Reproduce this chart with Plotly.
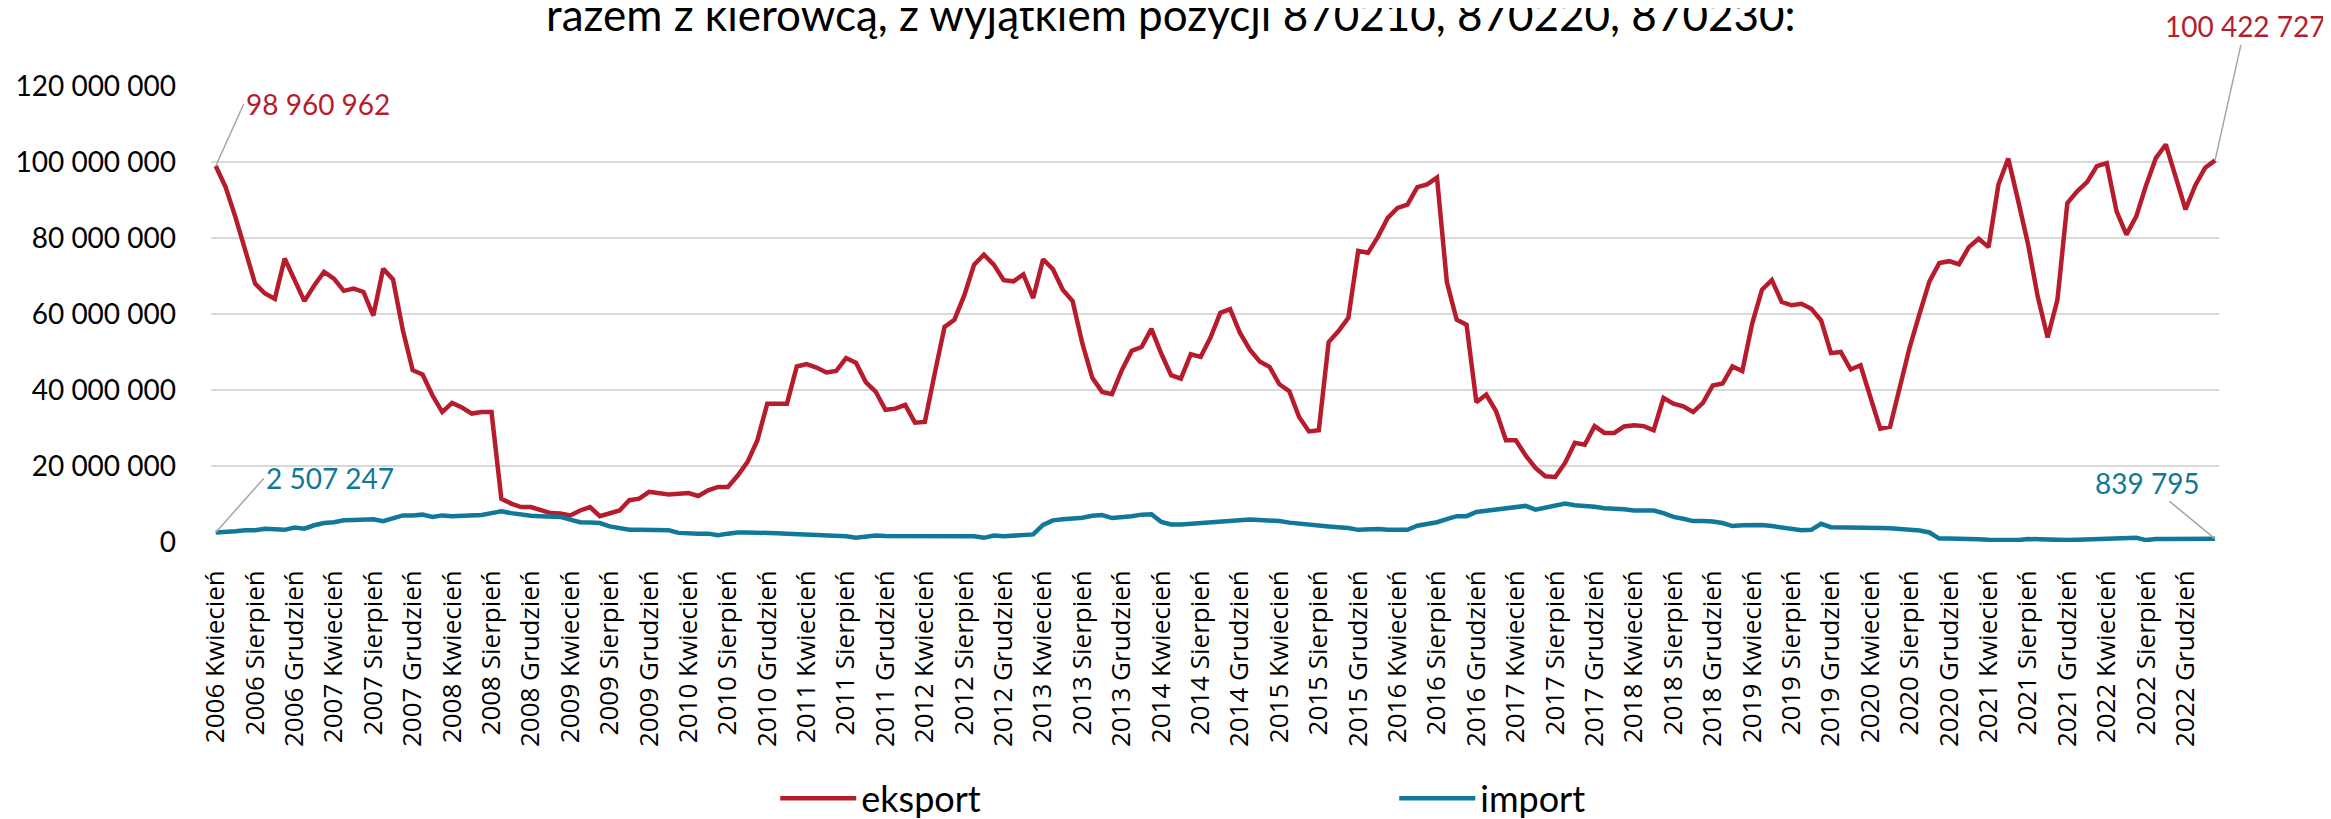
import plotly.graph_objects as go

# ---------------- data (values in millions) ----------------
miesiace_pl = ["Styczeń", "Luty", "Marzec", "Kwiecień", "Maj", "Czerwiec", "Lipiec",
               "Sierpień", "Wrzesień", "Październik", "Listopad", "Grudzień"]
start_year, start_month, n_months = 2006, 4, 204

eksport_mln = [
    98.960962, 93.4, 85.5, 76.8, 68.0, 65.4, 64.0, 74.6, 68.9, 63.4,
    67.5, 71.1, 69.3, 66.1, 66.7, 65.8, 59.6, 71.9, 69.1, 55.7,
    45.2, 44.1, 38.6, 34.2, 36.6, 35.4, 33.8, 34.2, 34.2, 11.4,
    10.1, 9.2, 9.2, 8.3, 7.6, 7.5, 7.0, 8.3, 9.2, 6.8,
    7.6, 8.3, 11.0, 11.4, 13.2, 12.7, 12.5, 12.7, 12.9, 12.1,
    13.6, 14.5, 14.5, 17.5, 21.1, 26.8, 36.4, 36.4, 36.4, 46.2,
    46.8, 45.9, 44.6, 45.0, 48.4, 47.2, 42.1, 39.6, 34.8, 35.1,
    36.1, 31.4, 31.6, 44.3, 56.6, 58.5, 64.9, 73.0, 75.6, 73.0,
    68.9, 68.6, 70.4, 64.2, 74.4, 71.8, 66.4, 63.4, 52.2, 43.2,
    39.5, 38.9, 45.2, 50.3, 51.3, 56.1, 49.6, 43.9, 43.0, 49.4,
    48.7, 53.8, 60.3, 61.3, 55.0, 50.6, 47.5, 46.1, 41.5, 39.7,
    32.9, 29.1, 29.4, 52.6, 55.5, 59.0, 76.6, 76.1, 80.3, 85.3,
    87.9, 88.8, 93.4, 94.1, 95.9, 68.4, 58.5, 57.2, 36.8, 38.8,
    34.4, 26.8, 26.8, 22.8, 19.5, 17.3, 17.1, 20.8, 26.1, 25.6,
    30.5, 28.7, 28.7, 30.4, 30.7, 30.5, 29.4, 37.9, 36.4, 35.7,
    34.2, 36.6, 41.2, 41.7, 46.2, 45.0, 57.5, 66.4, 68.9, 63.2,
    62.3, 62.7, 61.4, 58.3, 49.7, 50.0, 45.4, 46.5, 38.6, 29.8,
    30.3, 41.2, 51.3, 60.1, 68.6, 73.4, 73.9, 73.1, 77.6, 79.8,
    77.6, 94.0, 100.9, 89.9, 78.5, 64.5, 53.8, 63.8, 89.2, 92.3,
    94.7, 98.9, 99.7, 87.0, 80.9, 85.7, 93.9, 101.1, 104.6, 96.1,
    87.5, 93.9, 98.5, 100.422727,
]

import_mln = [
    2.507247, 2.6, 2.8, 3.1, 3.1, 3.5, 3.3, 3.2, 3.8, 3.5,
    4.4, 5.0, 5.2, 5.7, 5.8, 5.8, 6.0, 5.5, 6.4, 7.0,
    7.0, 7.2, 6.6, 7.0, 6.8, 6.9, 6.9, 7.1, 7.6, 8.1,
    7.6, 7.2, 6.9, 6.8, 6.8, 6.6, 5.9, 5.2, 5.1, 5.0,
    4.1, 3.6, 3.2, 3.2, 3.1, 3.1, 3.1, 2.4, 2.2, 2.2,
    2.2, 1.8, 2.2, 2.5, 2.5, 2.5, 2.4, 2.3, 2.2, 2.1,
    2.1, 2.0, 1.9, 1.8, 1.5, 1.1, 1.4, 1.7, 1.6, 1.6,
    1.5, 1.5, 1.5, 1.5, 1.5, 1.5, 1.5, 1.5, 1.1, 1.7,
    1.5, 1.7, 1.8, 2.0, 4.5, 5.7, 6.0, 6.1, 6.4, 6.9,
    7.1, 6.3, 6.5, 6.8, 7.2, 7.3, 5.3, 4.6, 4.6, 4.8,
    5.0, 5.1, 5.3, 5.7, 5.9, 5.9, 5.8, 5.7, 5.5, 5.1,
    4.8, 4.6, 4.3, 4.1, 3.9, 3.7, 3.2, 3.3, 3.4, 3.2,
    3.2, 3.2, 4.3, 4.7, 5.2, 6.0, 6.8, 6.8, 7.9, 8.2,
    8.5, 8.7, 9.2, 9.5, 8.5, 9.1, 9.6, 10.1, 9.7, 9.6,
    9.3, 8.9, 8.8, 8.6, 8.3, 8.3, 8.3, 7.6, 6.6, 6.1,
    5.5, 5.5, 5.4, 5.0, 4.2, 4.4, 4.4, 4.5, 4.2, 3.9,
    3.5, 3.1, 3.2, 4.8, 3.9, 3.9, 3.8, 3.8, 3.7, 3.7,
    3.6, 3.4, 3.2, 3.0, 2.5, 0.9, 0.9, 0.9, 0.8, 0.7,
    0.6, 0.6, 0.5, 0.5, 0.8, 0.7, 0.7, 0.6, 0.5, 0.6,
    0.7, 0.8, 0.9, 0.9, 1.0, 1.1, 0.5, 0.8, 0.8, 0.8,
    0.8, 0.8, 0.8, 0.839795,
]

y_ticks = [0, 20_000_000, 40_000_000, 60_000_000, 80_000_000, 100_000_000, 120_000_000]
title_text = "razem z kierowcą, z wyjątkiem pozycji 870210, 870220, 870230:"

# ---------------- derived ----------------
kategorie = []
for i in range(n_months):
    k = start_month - 1 + i
    kategorie.append(f"{start_year + k // 12} {miesiace_pl[k % 12]}")
tick_kat = kategorie[0:201:4]

eksport = [round(v * 1_000_000) for v in eksport_mln]
imp = [round(v * 1_000_000) for v in import_mln]


def fmt(v):
    return f"{v:,}".replace(",", " ")


RED = "#B71C2D"
TEAL = "#107899"
GREY = "#A6A6A6"
CAL = "Lato, 'Open Sans', sans-serif"

fig = go.Figure()
fig.add_trace(go.Scatter(x=kategorie, y=eksport, mode="lines", name="eksport",
                         line=dict(color=RED, width=4.5)))
fig.add_trace(go.Scatter(x=kategorie, y=imp, mode="lines", name="import",
                         line=dict(color=TEAL, width=4.5)))

annotations = [
    dict(x=kategorie[0], y=eksport[0], text=fmt(eksport[0]), xref="x", yref="y",
         showarrow=True, ax=28, ay=-62, xanchor="left", yanchor="middle",
         arrowhead=0, arrowwidth=1.5, arrowcolor=GREY,
         font=dict(family=CAL, size=28, color=RED)),
    dict(x=kategorie[-1], y=eksport[-1], text=fmt(eksport[-1]), xref="x", yref="y",
         showarrow=True, ax=30, ay=-134, xanchor="center", yanchor="middle",
         arrowhead=0, arrowwidth=1.5, arrowcolor=GREY,
         font=dict(family=CAL, size=28, color=RED)),
    dict(x=kategorie[0], y=imp[0], text=fmt(imp[0]), xref="x", yref="y",
         showarrow=True, ax=48, ay=-54, xanchor="left", yanchor="middle",
         arrowhead=0, arrowwidth=1.5, arrowcolor=GREY,
         font=dict(family=CAL, size=28, color=TEAL)),
    dict(x=kategorie[-1], y=imp[-1], text=fmt(imp[-1]), xref="x", yref="y",
         showarrow=True, ax=-68, ay=-56, xanchor="center", yanchor="middle",
         arrowhead=0, arrowwidth=1.5, arrowcolor=GREY,
         font=dict(family=CAL, size=28, color=TEAL)),
    dict(x=0.478, y=1.158, xref="paper", yref="paper", text=title_text,
         showarrow=False, xanchor="center", yanchor="middle",
         font=dict(family=CAL, size=44, color="#000000")),
]

# the page body has an 8px margin, so the figure is 8px smaller each way
fig.update_layout(
    width=2323, height=811,
    margin=dict(l=203, r=112, t=78, b=277, autoexpand=False),
    paper_bgcolor="white", plot_bgcolor="white",
    showlegend=True,
    legend=dict(orientation="h", x=0.281, y=-0.562, xanchor="left", yanchor="middle",
                font=dict(family=CAL, size=36, color="#000000"),
                entrywidth=528, entrywidthmode="pixels", itemwidth=76,
                bgcolor="rgba(0,0,0,0)"),
    annotations=annotations,
    xaxis=dict(type="category", range=[-0.48, 203.4], tickmode="array",
               tickvals=tick_kat, ticktext=tick_kat, tickangle=-90,
               showgrid=False, zeroline=False, showline=False, ticks="",
               ticklabelstandoff=22,
               tickfont=dict(family="Open Sans", size=26, color="#000000")),
    yaxis=dict(range=[0, 120_000_000], tickmode="array", tickvals=y_ticks,
               ticktext=[fmt(v) for v in y_ticks],
               showgrid=True, gridcolor="#D9D9D9", gridwidth=2,
               zeroline=False, showline=False, ticks="", ticklabelstandoff=34,
               tickfont=dict(family=CAL, size=28, color="#000000")),
)

fig.write_html("out.html")
